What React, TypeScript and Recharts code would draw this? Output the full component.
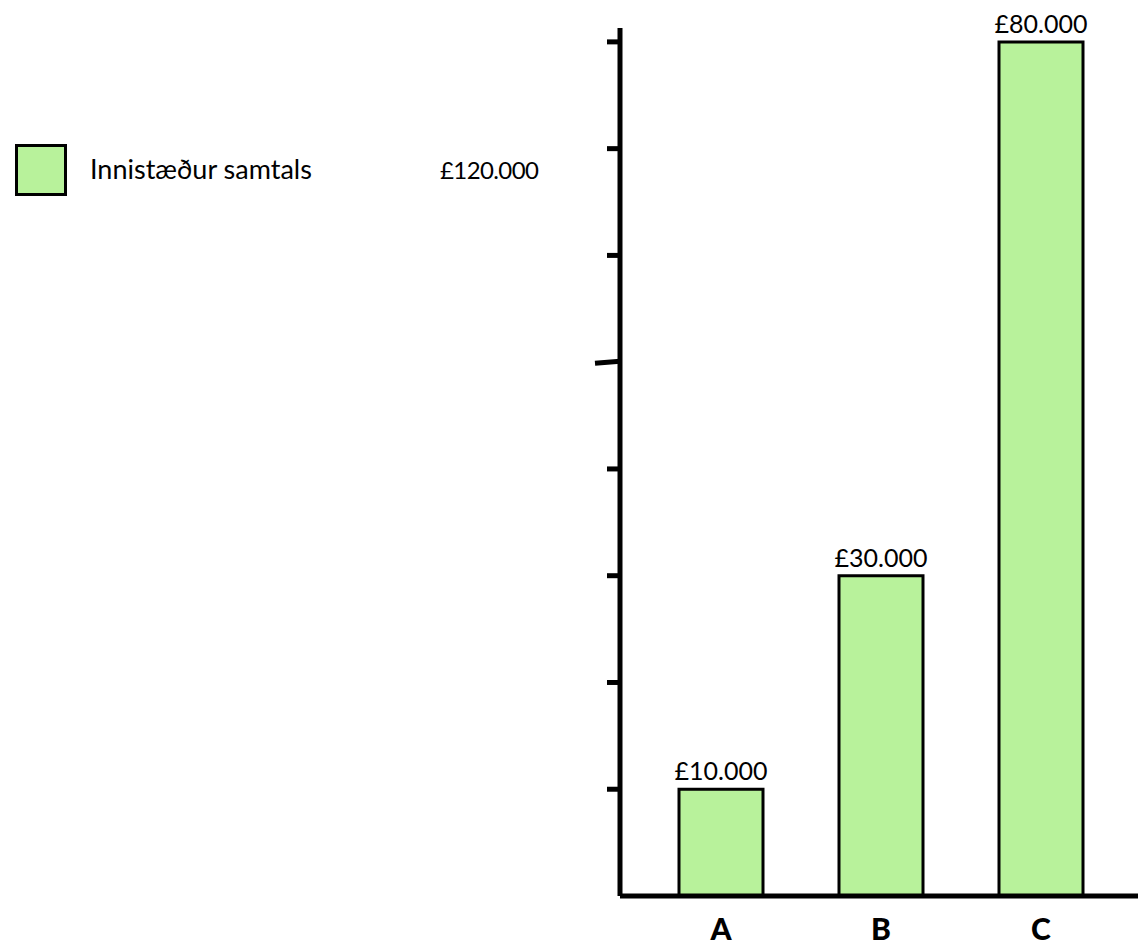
import React from "react";
import { BarChart, Bar, XAxis, YAxis, LabelList } from "recharts";

const categories = ["A", "B", "C"];
const deposits = [10000, 30000, 80000];
const yTicks = [0, 10000, 20000, 30000, 40000, 50000, 60000, 70000, 80000];
const legendName = "Innistæður samtals";
const legendTotal = 120000;

const data = categories.map((name, i) => ({ name, value: deposits[i] }));

const GREEN = "#b8f29b";
const FONT = "Lato, 'Open Sans', sans-serif";

const money = (v: number) =>
  "£" + String(v).replace(/\B(?=(\d{3})+(?!\d))/g, ".");

// ticks drawn by hand: the 50k one is longer and a bit slanted
const YTick = (props: any) => {
  const { x, y, payload } = props;
  if (payload.value === 0) return null;
  if (payload.value === 50000) {
    return <line x1={x - 25} y1={y + 1} x2={x} y2={y - 1} stroke="#000" strokeWidth={5} />;
  }
  return <line x1={x - 13} y1={y} x2={x} y2={y} stroke="#000" strokeWidth={5} />;
};

const XTick = (props: any) => {
  const { x, y, payload } = props;
  return (
    <text x={x} y={y + 36} textAnchor="middle" fontFamily={FONT} fontWeight={900} fontSize={30} fill="#000">
      {payload.value}
    </text>
  );
};

const App: React.FC = () => {
  return (
    <div style={{ position: "absolute", left: 0, top: 0, width: 1138, height: 948 }}>
      <svg width={600} height={70} style={{ position: "absolute", left: 0, top: 144 }}>
        <rect x={16.5} y={1.5} width={49} height={49} fill={GREEN} stroke="#000" strokeWidth={3} />
        <text x={90} y={35} fontFamily={FONT} fontSize={27} fill="#000">{legendName}</text>
        <text x={440} y={35} fontFamily={FONT} fontSize={24} letterSpacing={-0.6} fill="#000">{money(legendTotal)}</text>
      </svg>
      <BarChart
        width={1138}
        height={948}
        data={data}
        margin={{ top: 28, right: 0, bottom: 0, left: 0 }}
      >
        <XAxis
          dataKey="name"
          height={52}
          padding={{ left: 21, right: 17 }}
          axisLine={{ stroke: "#000", strokeWidth: 5 }}
          tickLine={false}
          tick={<XTick />}
        />
        <YAxis
          width={620}
          domain={[0, 81300]}
          ticks={yTicks}
          tickSize={0}
          tickMargin={0}
          axisLine={{ stroke: "#000", strokeWidth: 5 }}
          tickLine={false}
          tick={<YTick />}
          allowDataOverflow
        />
        <Bar dataKey="value" fill={GREEN} stroke="#000" strokeWidth={3} barSize={84} isAnimationActive={false}>
          <LabelList
            dataKey="value"
            position="top"
            offset={9}
            formatter={(v: any) => money(Number(v))}
            style={{ fontFamily: FONT, fontSize: 25, fill: "#000" }}
          />
        </Bar>
      </BarChart>
    </div>
  );
};

export default App;
